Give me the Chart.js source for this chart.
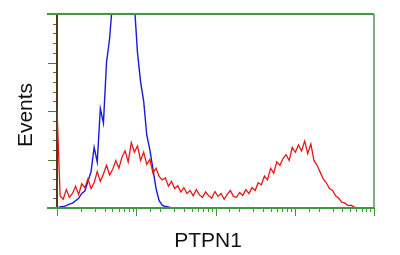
<!DOCTYPE html>
<html>
<head>
<meta charset="utf-8">
<script src="https://cdn.jsdelivr.net/npm/chart.js@4.4.1/dist/chart.umd.min.js"></script>
<style>
  html, body { margin: 0; padding: 0; background: #fff; }
  #wrap { width: 400px; height: 255px; }
</style>
</head>
<body>
<div id="wrap"><canvas id="histChart" width="400" height="255"></canvas></div>
<script>
// 4-decade log display, 256 channels per decade, one bin every 10 channels
const binWidth = 10;
const channelsPerDecade = 256;

// red: PTPN1 stained cells
const redCounts = [
  2.06, 0.25, 0.18, 0.38, 0.22, 0.30, 0.45, 0.28, 0.50, 0.42,
  0.60, 0.40, 0.52, 0.75, 0.55, 0.70, 0.88, 0.68, 0.80, 0.98,
  0.82, 1.05, 1.18, 0.95, 1.35, 1.15, 1.28, 0.98, 1.15, 0.90,
  1.00, 0.72, 0.82, 0.65, 0.58, 0.62, 0.45, 0.55, 0.40, 0.46,
  0.33, 0.42, 0.30, 0.36, 0.25, 0.38, 0.27, 0.22, 0.33, 0.25,
  0.20, 0.34, 0.24, 0.30, 0.18, 0.28, 0.36, 0.24, 0.22, 0.32,
  0.26, 0.38, 0.30, 0.42, 0.36, 0.52, 0.48, 0.66, 0.58, 0.82,
  0.72, 0.95, 0.88, 1.02, 1.10, 0.98, 1.25, 1.15, 1.30, 1.18,
  1.38, 1.12, 1.32, 0.98, 0.88, 0.74, 0.60, 0.52, 0.40, 0.36,
  0.25, 0.20, 0.12, 0.10, 0.05, 0.06, 0.02, 0
];

// blue: negative control
const blueCounts = [
  0, 0.02, 0.03, 0.05, 0.08, 0.10, 0.15, 0.20, 0.30, 0.35,
  0.55, 0.75, 1.25, 0.95, 2.05, 1.75, 3.00, 3.50, 4.30, 4.80,
  5.00, 5.00, 5.00, 5.00, 4.80, 4.20, 3.20, 2.60, 2.20, 1.50,
  1.20, 0.80, 0.40, 0.15, 0.06, 0.03, 0.02, 0
];

const xMin = 1, xMax = 10000;
const yMin = 0, yMax = 4, yStep = 0.2;

const binValues = redCounts.map((v, i) => Math.pow(10, i * binWidth / channelsPerDecade));

const green = '#3f9a3f';
const isWhole = v => Math.abs(v - Math.round(v)) < 1e-6;
const isDecade = v => isWhole(Math.log10(v));

const frameAndTicks = {
  id: 'frameAndTicks',
  beforeDatasetsDraw(chart) {
    const { ctx, chartArea: a, scales: { y } } = chart;
    ctx.save();
    ctx.lineWidth = 1;
    ctx.strokeStyle = '#4f7a36';
    y.ticks.forEach(t => {
      const py = Math.round(y.getPixelForValue(t.value)) + 0.5;
      ctx.beginPath();
      ctx.moveTo(a.left, py);
      ctx.lineTo(a.left - (isWhole(t.value) ? 9 : 4), py);
      ctx.stroke();
    });
    ctx.strokeStyle = '#4b3a1e';
    ctx.lineWidth = 2;
    ctx.beginPath();
    ctx.moveTo(a.left, a.top);
    ctx.lineTo(a.left, a.bottom);
    ctx.stroke();
    ctx.restore();
  },
  afterDatasetsDraw(chart) {
    const { ctx, chartArea: a, scales: { x } } = chart;
    ctx.save();
    ctx.strokeStyle = green;
    ctx.lineWidth = 2;
    ctx.beginPath();
    ctx.moveTo(a.left - 10, a.top);
    ctx.lineTo(a.right, a.top);
    ctx.stroke();
    ctx.beginPath();
    ctx.moveTo(a.left - 10, a.bottom);
    ctx.lineTo(a.right, a.bottom);
    ctx.stroke();
    ctx.strokeStyle = '#5d8f5d';
    ctx.lineWidth = 1.5;
    ctx.beginPath();
    ctx.moveTo(a.right, a.top);
    ctx.lineTo(a.right, a.bottom);
    ctx.stroke();
    ctx.strokeStyle = green;
    ctx.lineWidth = 1;
    x.ticks.forEach(t => {
      const px = Math.round(x.getPixelForValue(t.value)) + 0.5;
      ctx.beginPath();
      ctx.moveTo(px, a.bottom);
      ctx.lineTo(px, a.bottom + (isDecade(t.value) ? 8 : 4));
      ctx.stroke();
    });
    ctx.restore();
  },
  afterDraw(chart) {
    const { ctx } = chart;
    ctx.save();
    ctx.fillStyle = '#111';
    ctx.font = '21px "Liberation Sans", Arial, sans-serif';
    ctx.textAlign = 'center';
    ctx.textBaseline = 'middle';
    ctx.fillText('PTPN1', 208, 241);
    ctx.translate(26, 115);
    ctx.rotate(-Math.PI / 2);
    ctx.fillText('Events', 0, 0);
    ctx.restore();
  }
};

new Chart(document.getElementById('histChart'), {
  type: 'line',
  data: {
    labels: binValues,
    datasets: [{
      label: 'PTPN1',
      data: redCounts,
      borderColor: 'rgb(232, 22, 22)',
      borderWidth: 1.3,
      pointRadius: 0,
      tension: 0,
      fill: false
    }, {
      label: 'Control',
      data: blueCounts,
      borderColor: 'rgb(25, 25, 215)',
      borderWidth: 1.4,
      pointRadius: 0,
      tension: 0,
      fill: false
    }]
  },
  options: {
    responsive: false,
    animation: false,
    layout: { padding: { left: 57, top: 14, right: 26, bottom: 47 } },
    plugins: { legend: { display: false }, tooltip: { enabled: false } },
    scales: {
      x: { type: 'logarithmic', min: xMin, max: xMax, display: false, ticks: { autoSkip: false } },
      y: { type: 'linear', min: yMin, max: yMax, display: false,
           ticks: { stepSize: yStep, maxTicksLimit: 30, autoSkip: false } }
    }
  },
  plugins: [frameAndTicks]
});
</script>
</body>
</html>
